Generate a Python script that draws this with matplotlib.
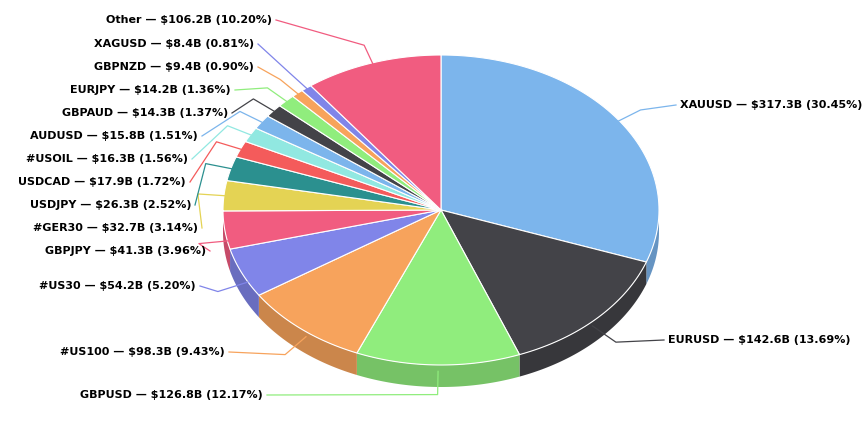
import numpy as np
import matplotlib.pyplot as plt
from matplotlib.colors import to_rgb

symbols = ["XAUUSD", "EURUSD", "GBPUSD", "#US100", "#US30", "GBPJPY", "#GER30", "USDJPY",
           "USDCAD", "#USOIL", "AUDUSD", "GBPAUD", "EURJPY", "GBPNZD", "XAGUSD", "Other"]
volumes = [317.3, 142.6, 126.8, 98.3, 54.2, 41.3, 32.7, 26.3,
           17.9, 16.3, 15.8, 14.3, 14.2, 9.4, 8.4, 106.2]
shares = ["30.45", "13.69", "12.17", "9.43", "5.20", "3.96", "3.14", "2.52",
          "1.72", "1.56", "1.51", "1.37", "1.36", "0.90", "0.81", "10.20"]
colors = ["#7cb5ec", "#434348", "#90ed7d", "#f7a35c", "#8085e9", "#f15c80", "#e4d354", "#2b908f",
          "#f45b5b", "#91e8e1", "#7cb5ec", "#434348", "#90ed7d", "#f7a35c", "#8085e9", "#f15c80"]

# label anchor positions (pixel coords): text edge x, y, side
label_pos = [(680, 105, "l"), (668, 340, "l"), (263, 395, "r"), (225, 352, "r"),
             (196, 286, "r"), (206, 251, "r"), (198, 228, "r"), (191, 205, "r"),
             (186, 182, "r"), (188, 159, "r"), (198, 136, "r"), (228, 113, "r"),
             (231, 90, "r"), (254, 67, "r"), (254, 44, "r"), (272, 20, "r")]

CX, CY, RX, RY, DEPTH = 441, 210, 218, 155, 22


def pt(t, r=1.0, dy=0):
    return CX + RX * r * np.sin(t), CY - RY * r * np.cos(t) + dy


def darker(c, f=0.82):
    return tuple(v * f for v in to_rgb(c))


fig = plt.figure(figsize=(8.66, 4.32), dpi=100)
ax = fig.add_axes([0, 0, 1, 1])
ax.set_xlim(0, 866)
ax.set_ylim(432, 0)
ax.axis("off")

total = sum(volumes)
bounds = np.concatenate([[0], np.cumsum(volumes) / total * 2 * np.pi])

# side walls (front half only)
for i in range(len(volumes)):
    a, b = max(bounds[i], np.pi / 2), min(bounds[i + 1], 3 * np.pi / 2)
    if b <= a:
        continue
    t = np.linspace(a, b, 60)
    xs, ys = pt(t)
    xb, yb = pt(t[::-1], dy=DEPTH)
    ax.fill(np.concatenate([xs, xb]), np.concatenate([ys, yb]),
            color=darker(colors[i]), lw=0, zorder=1)

# tops
for i in range(len(volumes)):
    t = np.linspace(bounds[i], bounds[i + 1], 80)
    xs, ys = pt(t)
    ax.fill(np.concatenate([[CX], xs]), np.concatenate([[CY], ys]),
            color=colors[i], ec="white", lw=0.8, zorder=2)

# labels and connectors
for i in range(len(volumes)):
    mid = (bounds[i] + bounds[i + 1]) / 2
    lx, ly, side = label_pos[i]
    ex, ey = pt(mid, 0.97)
    if np.cos(mid) < 0:
        ey += DEPTH * 0.5
    ox, oy = pt(mid, 1.12)
    if np.cos(mid) < 0:
        oy += DEPTH * 0.5
    if side == "r":
        ax.plot([lx + 4, ox, ex], [ly, oy, ey], color=colors[i], lw=0.9, zorder=3)
        ha = "right"
    else:
        ax.plot([lx - 4, ox, ex], [ly, oy, ey], color=colors[i], lw=0.9, zorder=3)
        ha = "left"
    ax.text(lx, ly, f"{symbols[i]} — ${volumes[i]}B ({shares[i]}%)", ha=ha, va="center",
            fontsize=8, fontweight="bold", color="#000000", zorder=4)

fig.savefig("out.png", dpi=100)
